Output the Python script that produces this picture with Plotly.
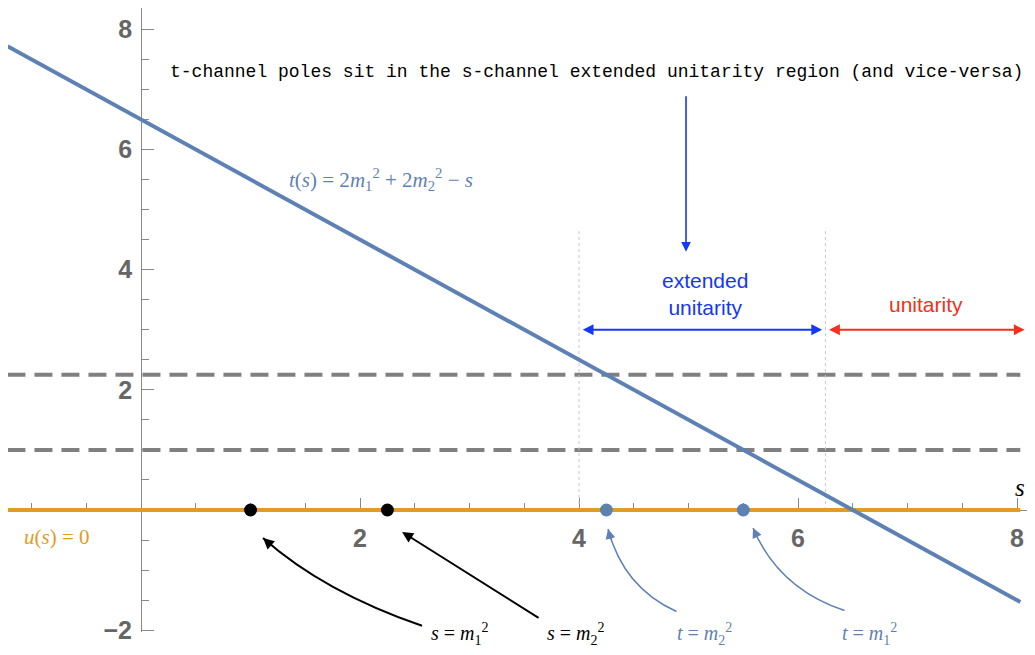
import plotly.graph_objects as go

# masses and kinematic points
m1_sq = 1.0
m2_sq = 2.25
s_span = [-1.22, 8.03]          # plotted s range
t_vals = [7.72, -1.53]          # t(s) = 2m1^2 + 2m2^2 - s at the ends
u_vals = [0.0, 0.0]             # u(s) = 0
s_poles = [1.0, 2.25]           # s = m1^2, s = m2^2
t_poles = [4.25, 5.5]           # t = m2^2, t = m1^2
thresholds = [1.0, 2.25]        # dashed horizontal lines
region_edges = [4.0, 6.25]      # extended unitarity boundaries
region_top = 4.67

x_ticks = [2, 4, 6, 8]
x_ticktext = ["2", "4", "6", "8"]
y_ticks = [-2, 2, 4, 6, 8]
y_ticktext = ["\u22122", "2", "4", "6", "8"]

BLUE = "#5E81B5"
ORANGE = "#E19C24"
GRAY = "#808080"
AXIS = "#888888"
LBLUE = "#1438F5"
RED = "#F4301C"

# the page body adds an 8px margin, so the figure is 16px smaller than the window
W, H = 1019, 639
x_range = [-1.215, 8.091]
y_range = [-2.03, 8.355]
x_dom = [0.0, 1.0]
y_dom = [15 / H, 1.0]

# where the axes cross (x=0, y=0) in paper coords
x0_paper = x_dom[0] + (0 - x_range[0]) / (x_range[1] - x_range[0]) * (x_dom[1] - x_dom[0])
y0_paper = y_dom[0] + (0 - y_range[0]) / (y_range[1] - y_range[0]) * (y_dom[1] - y_dom[0])

fig = go.Figure()

for th in thresholds:
    fig.add_trace(go.Scatter(x=s_span, y=[th, th], mode="lines",
                             line=dict(color=GRAY, width=4, dash="18px,9px")))

for e in region_edges:
    fig.add_trace(go.Scatter(x=[e, e], y=[0, region_top], mode="lines",
                             line=dict(color="#c8c8c8", width=1, dash="dot")))

fig.add_trace(go.Scatter(x=s_span, y=u_vals, mode="lines",
                         line=dict(color=ORANGE, width=4)))
fig.add_trace(go.Scatter(x=s_span, y=t_vals, mode="lines",
                         line=dict(color=BLUE, width=4)))

fig.add_trace(go.Scatter(x=s_poles, y=[0] * len(s_poles), mode="markers",
                         marker=dict(color="black", size=13)))
fig.add_trace(go.Scatter(x=t_poles, y=[0] * len(t_poles), mode="markers",
                         marker=dict(color=BLUE, size=13)))

serif = "Liberation Serif"
ann = []

# headline
ann.append(dict(x=4.155, y=7.29, text="t-channel poles sit in the s-channel extended unitarity region (and vice-versa)",
                showarrow=False, font=dict(family="Liberation Mono", size=18, color="black")))
# down arrow
ann.append(dict(x=4.977, y=4.30, ax=4.977, ay=6.91, axref="x", ayref="y", text="",
                showarrow=True, arrowhead=2, arrowsize=1.2, arrowwidth=1.6, arrowcolor=LBLUE))
# region labels
ann.append(dict(x=5.15, y=3.59, text="extended<br>unitarity", showarrow=False,
                font=dict(family="Liberation Sans", size=21, color=LBLUE)))
ann.append(dict(x=7.17, y=3.42, text="unitarity", showarrow=False,
                font=dict(family="Liberation Sans", size=21, color=RED)))
# double arrows
ann.append(dict(x=6.22, y=3.0, ax=4.02, ay=3.0, axref="x", ayref="y", text="",
                showarrow=True, arrowhead=2, startarrowhead=2, arrowside="end+start",
                arrowsize=1.2, arrowwidth=1.8, arrowcolor=LBLUE))
ann.append(dict(x=8.07, y=3.0, ax=6.27, ay=3.0, axref="x", ayref="y", text="",
                showarrow=True, arrowhead=2, startarrowhead=2, arrowside="end+start",
                arrowsize=1.2, arrowwidth=1.8, arrowcolor=RED))
# curve labels
ann.append(dict(x=2.19, y=5.50,
                text="<i>t</i>(<i>s</i>) = 2<i>m</i><sub>1</sub><sup>2</sup> + 2<i>m</i><sub>2</sub><sup>2</sup> \u2212 <i>s</i>",
                showarrow=False, font=dict(family=serif, size=21, color=BLUE)))
ann.append(dict(x=-0.767, y=-0.45, text="<i>u</i>(<i>s</i>) = 0", showarrow=False,
                font=dict(family=serif, size=21, color=ORANGE)))
ann.append(dict(x=8.091, y=0.37, xanchor="right", text="<i>s</i>", showarrow=False,
                font=dict(family=serif, size=25, color="black")))

# bottom labels (anchored at the bottom of the y range so they are not hidden)
bottom = [
    (2.91, "<i>s</i> = <i>m</i><sub>1</sub><sup>2</sup>", "black"),
    (3.97, "<i>s</i> = <i>m</i><sub>2</sub><sup>2</sup>", "black"),
    (5.15, "<i>t</i> = <i>m</i><sub>2</sub><sup>2</sup>", BLUE),
    (6.65, "<i>t</i> = <i>m</i><sub>1</sub><sup>2</sup>", BLUE),
]
for bx, txt, col in bottom:
    ann.append(dict(x=bx, y=y_range[0], yshift=-2, text=txt, showarrow=False,
                    font=dict(family=serif, size=20, color=col)))

# straight arrow to s = m2^2
ann.append(dict(x=2.384, y=-0.365, ax=3.644, ay=-1.811, axref="x", ayref="y", text="",
                showarrow=True, arrowhead=2, arrowsize=1.1, arrowwidth=2, arrowcolor="black"))

# curved arrows: quadratic paths + arrowheads
curves = [
    ((2.566, -1.927), (1.667, -1.362), (1.114, -0.465), "black", 2.0, (9, 8)),
    ((4.890, -1.689), (4.405, -1.291), (4.265, -0.316), BLUE, 1.5, (3, 12)),
    ((6.425, -1.673), (5.823, -1.307), (5.589, -0.299), BLUE, 1.5, (5, 11)),
]
shapes = []
for p0, p1, p2, col, w, (dx, dy) in curves:
    shapes.append(dict(type="path", xref="x", yref="y",
                       path=f"M {p0[0]},{p0[1]} Q {p1[0]},{p1[1]} {p2[0]},{p2[1]}",
                       line=dict(color=col, width=w)))
    ann.append(dict(x=p2[0], y=p2[1], ax=dx, ay=dy, text="", showarrow=True,
                    arrowhead=2, arrowsize=1.1 if w > 1.8 else 1.3, arrowwidth=w, arrowcolor=col))

fig.update_layout(
    width=W, height=H,
    margin=dict(l=0, r=0, t=0, b=0, autoexpand=False),
    paper_bgcolor="white", plot_bgcolor="white",
    showlegend=False,
    annotations=ann,
    shapes=shapes,
    xaxis=dict(
        range=x_range, domain=x_dom, anchor="free", position=y0_paper,
        automargin=False, layer="below traces",
        showgrid=False, zeroline=False,
        showline=True, linecolor=AXIS, linewidth=1,
        tickmode="array", tickvals=x_ticks, ticktext=x_ticktext,
        ticks="inside", ticklen=12, tickcolor=AXIS, tickwidth=1,
        ticklabelstandoff=6,
        tickfont=dict(family="Liberation Sans", size=25, color="#666666", weight="bold"),
        minor=dict(tick0=0, dtick=0.5, ticks="inside", ticklen=7, tickcolor=AXIS, showgrid=False),
    ),
    yaxis=dict(
        range=y_range, domain=y_dom, anchor="free", position=x0_paper,
        automargin=False, layer="below traces",
        showgrid=False, zeroline=False,
        showline=True, linecolor=AXIS, linewidth=1,
        tickmode="array", tickvals=y_ticks, ticktext=y_ticktext,
        ticks="inside", ticklen=12, tickcolor=AXIS, tickwidth=1,
        ticklabelstandoff=4,
        tickfont=dict(family="Liberation Sans", size=25, color="#666666", weight="bold"),
        minor=dict(tick0=0, dtick=0.5, ticks="inside", ticklen=7, tickcolor=AXIS, showgrid=False),
    ),
)

fig.write_html("out.html")
